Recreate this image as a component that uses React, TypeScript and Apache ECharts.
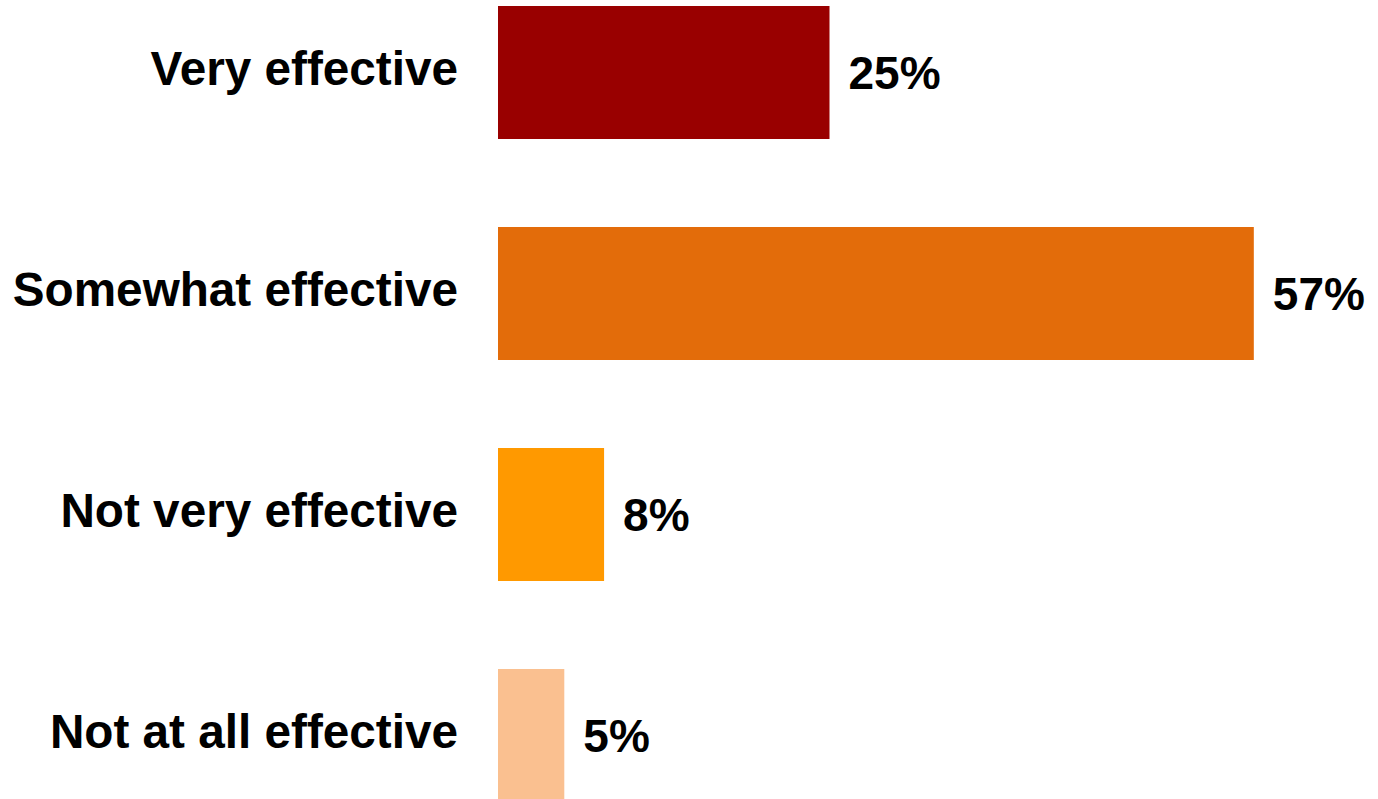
import React, { useEffect, useRef } from "react";
import * as echarts from "echarts";

const categories = ["Very effective", "Somewhat effective", "Not very effective", "Not at all effective"];
const values = [25, 57, 8, 5];
const colors = ["#990000", "#E36C0A", "#FF9900", "#FAC090"];

export default function App() {
  const ref = useRef<HTMLDivElement>(null);
  useEffect(() => {
    if (!ref.current) return;
    const chart = echarts.init(ref.current, undefined, { renderer: "svg" });
    const font = "Liberation Sans, Arial, sans-serif";
    chart.setOption({
      animation: false,
      backgroundColor: "#ffffff",
      grid: { left: 498, top: 0, width: 795.6, height: 884, outerBoundsMode: "none", containLabel: false },
      xAxis: {
        type: "value",
        min: 0,
        max: 60,
        show: false,
      },
      yAxis: {
        type: "category",
        data: categories,
        inverse: true,
        axisLine: { show: false },
        axisTick: { show: false },
        splitLine: { show: false },
        axisLabel: { show: false },
      },
      series: [
        {
          type: "bar",
          barWidth: 133,
          data: values.map((v, i) => ({ value: v, itemStyle: { color: colors[i] } })),
          label: {
            show: true,
            position: "right",
            distance: 19,
            formatter: "{c}%",
            fontSize: 46,
            fontWeight: "bold",
            color: "#000000",
            fontFamily: font,
          },
        },
        {
          type: "bar",
          barWidth: 133,
          barGap: "-100%",
          silent: true,
          data: values,
          itemStyle: { color: "rgba(0,0,0,0)" },
          label: {
            show: true,
            position: "left",
            distance: 40,
            offset: [0, -4],
            formatter: "{b}",
            fontSize: 47.7,
            fontWeight: "bold",
            color: "#000000",
            fontFamily: font,
          },
        },
      ],
    });
    return () => chart.dispose();
  }, []);
  return (
    <div style={{ position: "fixed", left: 0, top: 0, width: 1378, height: 799, overflow: "hidden", background: "#fff" }}>
      <div
        ref={ref}
        style={{ position: "absolute", left: 0, top: -38, width: 1378, height: 884 }}
      />
    </div>
  );
}
